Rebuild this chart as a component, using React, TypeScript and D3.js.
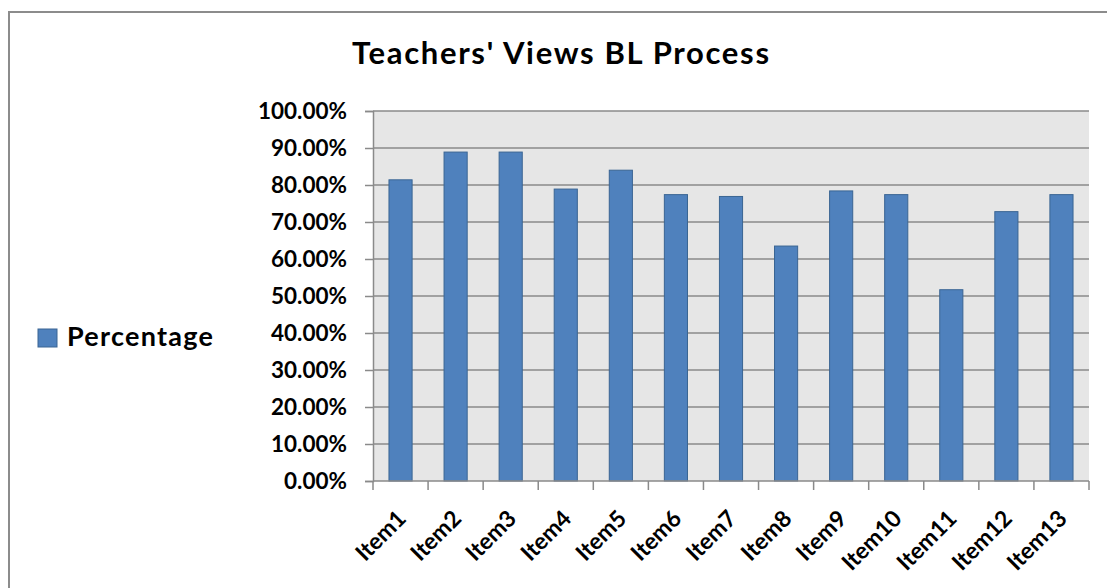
import React, { useEffect, useRef } from "react";
import * as d3 from "d3";

const categories = [
  "Item1", "Item2", "Item3", "Item4", "Item5", "Item6", "Item7",
  "Item8", "Item9", "Item10", "Item11", "Item12", "Item13",
];
const percentages = [81.4, 88.9, 88.9, 78.9, 84.0, 77.4, 76.9, 63.5, 78.4, 77.4, 51.7, 72.8, 77.4];
const yTicks = [0, 10, 20, 30, 40, 50, 60, 70, 80, 90, 100];
const seriesName = "Percentage";
const chartTitle = "Teachers' Views BL Process";

const App = () => {
  const svgRef = useRef<SVGSVGElement>(null);

  useEffect(() => {
    const width = 1107;
    const height = 588;
    const margin = { top: 111, right: 18, bottom: 107, left: 373 };
    const font = "Lato, 'Open Sans', sans-serif";

    const svg = d3.select(svgRef.current);
    svg.selectAll("*").remove();
    svg.attr("width", width).attr("height", height);

    // outer chart border
    svg
      .append("rect")
      .attr("x", 9)
      .attr("y", 12)
      .attr("width", width + 20)
      .attr("height", height + 20)
      .attr("fill", "#fff")
      .attr("stroke", "#8c8c8c")
      .attr("stroke-width", 2);

    const x = d3
      .scaleBand()
      .domain(categories)
      .range([margin.left, width - margin.right])
      .paddingInner(0.58)
      .paddingOuter(0.29);

    const y = d3
      .scaleLinear()
      .domain([0, 100])
      .range([height - margin.bottom, margin.top]);

    // plot background
    svg
      .append("rect")
      .attr("x", margin.left)
      .attr("y", margin.top)
      .attr("width", width - margin.right - margin.left)
      .attr("height", height - margin.bottom - margin.top)
      .attr("fill", "#e6e6e6");

    // gridlines
    svg
      .append("g")
      .selectAll("line")
      .data(yTicks.filter((t) => t > 0))
      .enter()
      .append("line")
      .attr("x1", margin.left)
      .attr("x2", width - margin.right)
      .attr("y1", (d) => y(d))
      .attr("y2", (d) => y(d))
      .attr("stroke", "#8a8a8a")
      .attr("stroke-width", 1.5);

    // y axis
    const yAxis = svg
      .append("g")
      .attr("transform", `translate(${margin.left},0)`)
      .call(
        d3
          .axisLeft(y)
          .tickValues(yTicks)
          .tickSize(8)
          .tickPadding(18)
          .tickFormat((d) => `${(+d).toFixed(2)}%`)
      );
    yAxis.select(".domain").attr("stroke", "#8a8a8a").attr("stroke-width", 1.5);
    yAxis.selectAll(".tick line").attr("stroke", "#8a8a8a").attr("stroke-width", 1.5);
    yAxis
      .selectAll(".tick text")
      .attr("fill", "#000")
      .style("font-family", font)
      .style("font-weight", "bold")
      .style("font-size", "22.5px");

    // bars
    svg
      .selectAll(".bar")
      .data(percentages)
      .enter()
      .append("rect")
      .attr("class", "bar")
      .attr("x", (d, i) => x(categories[i])!)
      .attr("y", (d) => y(d))
      .attr("width", x.bandwidth())
      .attr("height", (d) => y(0) - y(d))
      .attr("fill", "#4f81bd")
      .attr("stroke", "#3a6593")
      .attr("stroke-width", 1);

    // x axis line and category ticks
    const step = x.step();
    const x0 = margin.left;
    const xAxis = svg.append("g");
    xAxis
      .append("line")
      .attr("x1", margin.left)
      .attr("x2", width - margin.right)
      .attr("y1", y(0))
      .attr("y2", y(0))
      .attr("stroke", "#8a8a8a")
      .attr("stroke-width", 1.5);
    xAxis
      .selectAll(".xtick")
      .data(d3.range(categories.length + 1))
      .enter()
      .append("line")
      .attr("x1", (i) => x0 + i * step)
      .attr("x2", (i) => x0 + i * step)
      .attr("y1", y(0))
      .attr("y2", y(0) + 9)
      .attr("stroke", "#8a8a8a")
      .attr("stroke-width", 1.5);

    // rotated category labels
    svg
      .selectAll(".xlabel")
      .data(categories)
      .enter()
      .append("text")
      .attr("class", "xlabel")
      .attr(
        "transform",
        (d) => `translate(${x(d)! + x.bandwidth() / 2 + 7},${y(0) + 39}) rotate(-45)`
      )
      .attr("text-anchor", "end")
      .style("font-family", font)
      .style("font-weight", "bold")
      .style("font-size", "23px")
      .text((d) => d);

    // title
    svg
      .append("text")
      .attr("x", 352)
      .attr("y", 64)
      .attr("textLength", 417)
      .attr("lengthAdjust", "spacing")
      .style("font-family", font)
      .style("font-weight", "bold")
      .style("font-size", "31px")
      .text(chartTitle);

    // legend
    const legend = svg.append("g").attr("transform", "translate(38,329)");
    legend
      .append("rect")
      .attr("width", 19)
      .attr("height", 18)
      .attr("fill", "#4f81bd")
      .attr("stroke", "#3a6593");
    legend
      .append("text")
      .attr("x", 29)
      .attr("y", 17)
      .attr("textLength", 146)
      .attr("lengthAdjust", "spacing")
      .style("font-family", font)
      .style("font-weight", "bold")
      .style("font-size", "27px")
      .text(seriesName);
  }, []);

  return (
    <svg ref={svgRef} style={{ position: "absolute", left: 0, top: 0 }}></svg>
  );
};

export default App;
